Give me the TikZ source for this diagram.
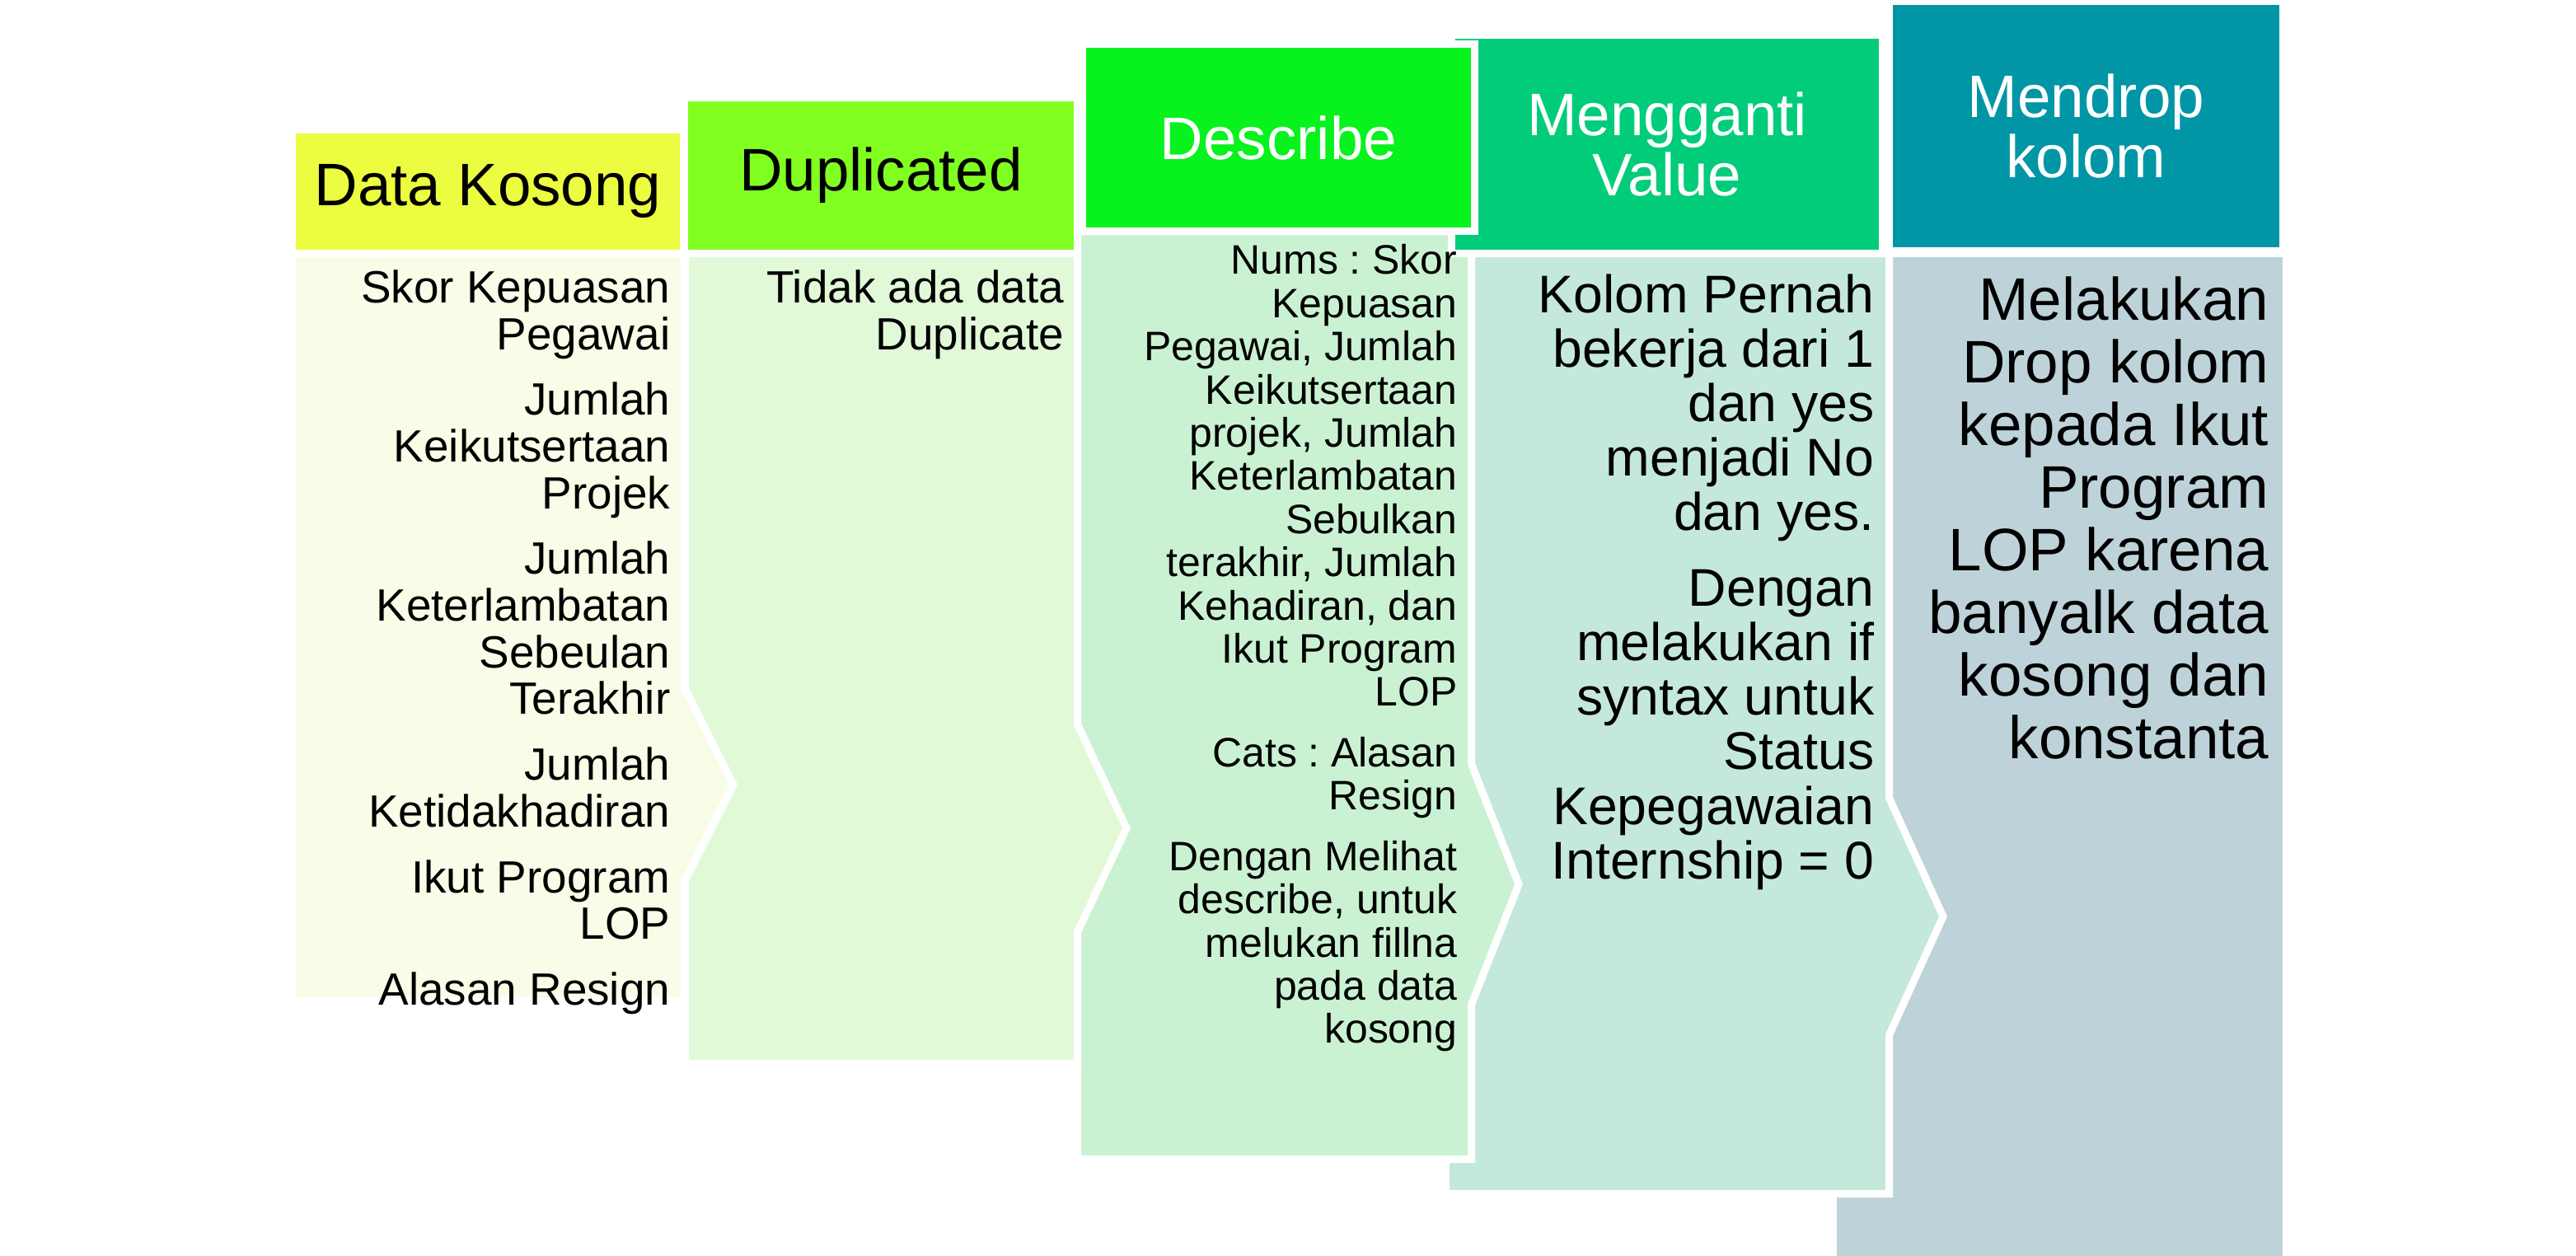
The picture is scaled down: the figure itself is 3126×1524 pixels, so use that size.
\documentclass[tikz,border=0pt]{standalone}
\usepackage{fontspec}
\setmainfont{Liberation Sans}
\usetikzlibrary{positioning}
\frenchspacing
\definecolor{hone}{RGB}{235,252,65}
\definecolor{htwo}{RGB}{128,255,32}
\definecolor{hthree}{RGB}{8,242,30}
\definecolor{hfour}{RGB}{0,204,122}
\definecolor{hfive}{RGB}{0,150,166}
\definecolor{bone}{RGB}{248,253,232}
\definecolor{btwo}{RGB}{226,249,216}
\definecolor{bthree}{RGB}{202,242,210}
\definecolor{bfour}{RGB}{196,232,220}
\definecolor{bfive}{RGB}{189,211,217}

\begin{document}
\begin{tikzpicture}[x=0.01cm, y=-0.01cm,
    head/.style={draw=white, line width=0.09cm, inner sep=0, align=center,
                 font=\fontsize{20.7}{21}\selectfont},
    band/.style={draw=white, line width=0.09cm},
    txt/.style={anchor=north east, inner sep=0, align=right}]

        \useasboundingbox (0,0) rectangle (3126,1524);

        % Bodies
        \filldraw[band, fill=bfive] (2224.5,307.5) -- (2774.5,307.5) -- (2774.5,1530) -- (2224.5,1530) -- cycle;
        \filldraw[band, fill=bfour] (1754.5,307.5) -- (2292.5,307.5) -- (2292.5,968) -- (2358,1112) -- (2292.5,1256) -- (2292.5,1448.5) -- (1754.5,1448.5) -- cycle;
        \filldraw[band, fill=bthree] (1307.5,280.5) -- (1785.5,280.5) -- (1785.5,927) -- (1843,1073) -- (1785.5,1219) -- (1785.5,1406.5) -- (1307.5,1406.5) -- cycle;
        \filldraw[band, fill=btwo] (831.5,304.5) -- (1307.5,304.5) -- (1307.5,879) -- (1367,1005) -- (1307.5,1131) -- (1307.5,1290.5) -- (831.5,1290.5) -- cycle;
        \filldraw[band, fill=bone] (354.5,304.5) -- (830.5,304.5) -- (830.5,834) -- (890,952) -- (830.5,1070) -- (830.5,1214.5) -- (354.5,1214.5) -- cycle;

        % Headers
        \node[head, fill=hfive, text=white, minimum width=4.78cm, minimum height=3.03cm] (h5) at (2531.5,153) {Mendrop\\kolom};
        \node[head, fill=hfour, text=white, minimum width=5.22cm, minimum height=2.64cm] (h4) at (2023,175) {Mengganti\\Value};
        \node[head, fill=hthree, text=white, minimum width=4.76cm, minimum height=2.27cm] (h3) at (1551.5,167) {Describe};
        \node[head, fill=htwo, minimum width=4.76cm, minimum height=1.88cm] (h2) at (1069,213) {Duplicated};
        \node[head, fill=hone, minimum width=4.74cm, minimum height=1.49cm] (h1) at (592,232.5) {Data Kosong};

        % Texts
        \node[txt, font=\fontsize{15.6}{16.1}\selectfont] (t1) at (814,327)
            {Skor Kepuasan\\Pegawai\\[6.6pt]Jumlah\\Keikutsertaan\\Projek\\[6.6pt]Jumlah\\Keterlambatan\\Sebeulan\\Terakhir\\[6.6pt]Jumlah\\Ketidakhadiran\\[6.6pt]Ikut Program\\LOP\\[6.6pt]Alasan Resign};
        \node[txt, font=\fontsize{15.6}{16.1}\selectfont] (t2) at (1292,327)
            {Tidak ada data\\Duplicate};
        \node[txt, font=\fontsize{14.2}{14.9}\selectfont] (t3) at (1769,296)
            {Nums : Skor\\Kepuasan\\Pegawai, Jumlah\\Keikutsertaan\\projek, Jumlah\\Keterlambatan\\Sebulkan\\terakhir, Jumlah\\Kehadiran, dan\\Ikut Program\\LOP\\[6pt]Cats : Alasan\\Resign\\[6pt]Dengan Melihat\\describe, untuk\\melukan fillna\\pada data\\kosong};
        \node[txt, font=\fontsize{18.3}{18.8}\selectfont] (t4) at (2275,332)
            {Kolom Pernah\\bekerja dari 1\\dan yes\\menjadi No\\dan yes.\\[7.3pt]Dengan\\melakukan if\\syntax untuk\\Status\\Kepegawaian\\Internship = 0};
        \node[txt, font=\fontsize{20.7}{21.6}\selectfont] (t5) at (2754,335)
            {Melakukan\\Drop kolom\\kepada Ikut\\Program\\LOP karena\\banyalk data\\kosong dan\\konstanta};

    \end{tikzpicture}
\end{document}
